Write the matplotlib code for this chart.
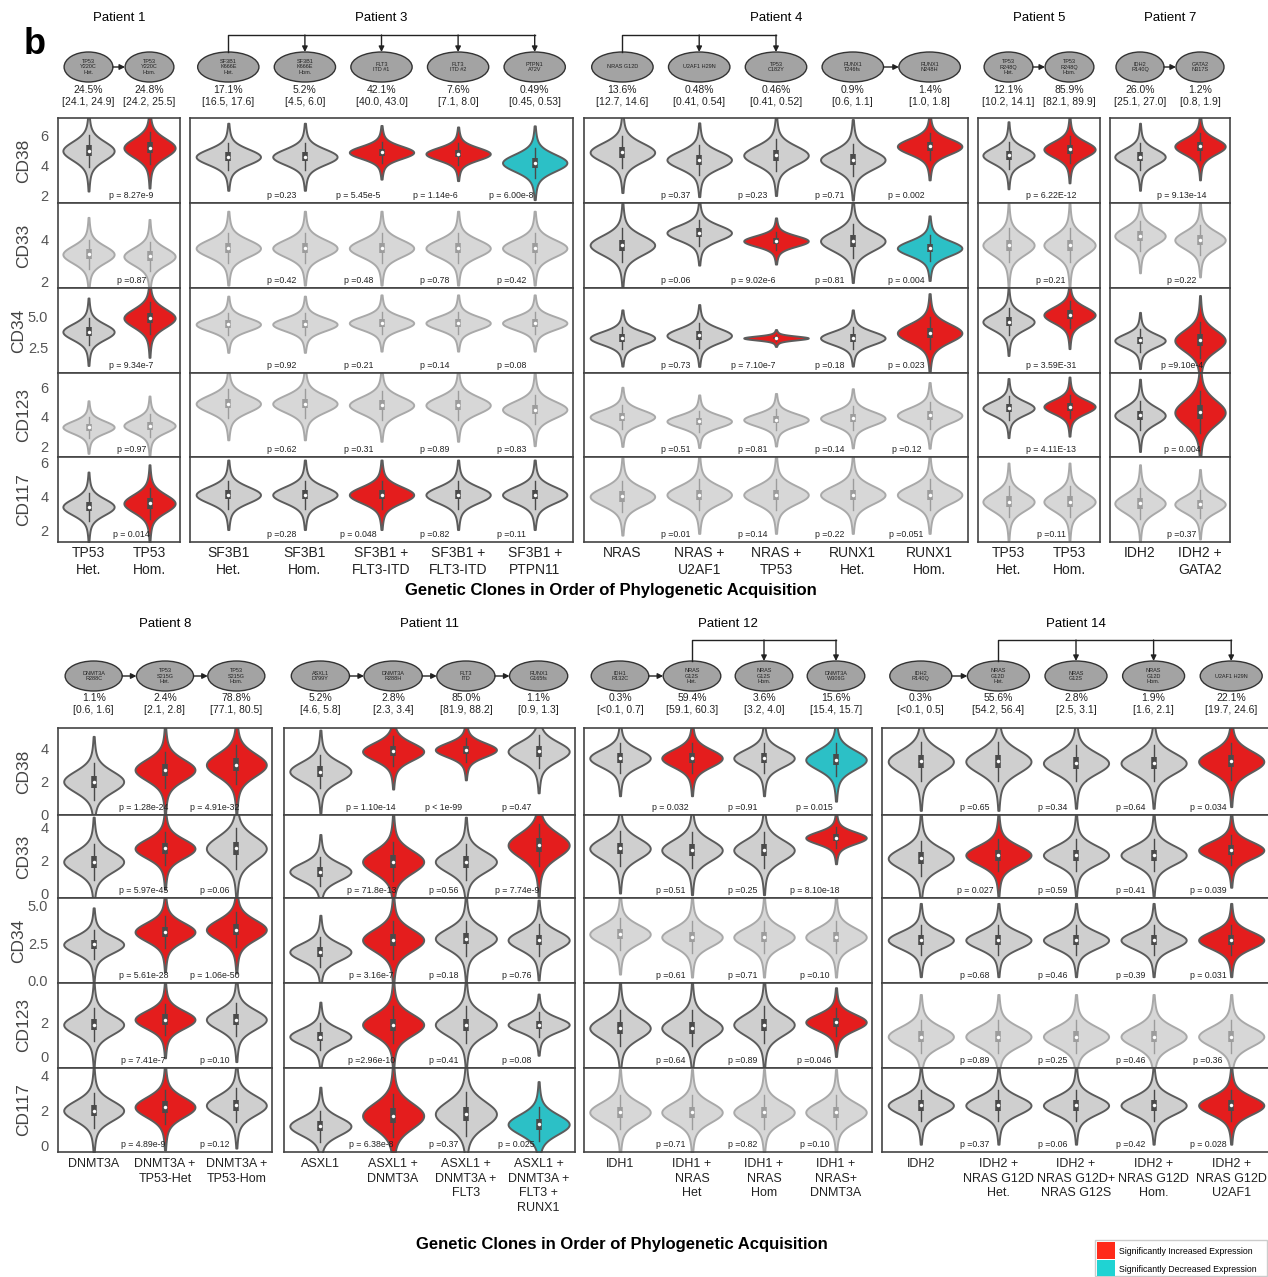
import numpy as np
import matplotlib
matplotlib.use('Agg')
from matplotlib import pyplot as plt
from matplotlib.patches import Ellipse, Rectangle

plt.rcParams['font.family'] = ['Liberation Sans', 'DejaVu Sans']

W, H = 1268, 1277
MARKERS = ['CD38', 'CD33', 'CD34', 'CD123', 'CD117']

# row geometry (pixel rows) and y scales for the two halves of the figure
TOP_ROWS = [(118, 203), (203, 288), (288, 373), (373, 457), (457, 542)]
TOP_YLIM = [(1.5, 7.2), (1.66, 5.8), (0.5, 7.3), (1.25, 7.0), (1.35, 6.3)]
TOP_TICKS = [[2, 4, 6], [2, 4], [2.5, 5.0], [2, 4, 6], [2, 4, 6]]
BOT_ROWS = [(728, 815), (815, 898), (898, 983), (983, 1068), (1068, 1152)]
BOT_YLIM = [(0, 5.2), (-0.3, 4.73), (-0.2, 5.54), (-0.65, 4.35), (-0.4, 4.46)]
BOT_TICKS = [[0, 2, 4], [0, 2, 4], [0.0, 2.5, 5.0], [0, 2], [0, 2, 4]]

# ---------------- patient 1 ----------------
P1_CLONES = ['TP53\nHet.', 'TP53\nHom.']
P1_NODES = ['TP53\nY220C\nHet.', 'TP53\nY220C\nHom.']
P1_VAF = ['24.5%\n[24.1, 24.9]', '24.8%\n[24.2, 25.5]']
P1_MED = [[5.0, 5.2], [3.3, 3.2], [3.8, 4.9], [3.3, 3.4], [3.4, 3.6]]
P1_SD = [[0.6, 0.6], [0.4, 0.4], [0.6, 0.7], [0.4, 0.45], [0.45, 0.5]]
P1_COL = ['dr', 'll', 'dr', 'll', 'dr']
P1_P = [['p = 8.27e-9'], ['p =0.87'], ['p = 9.34e-7'], ['p =0.97'], ['p = 0.014']]

# ---------------- patient 3 ----------------
P3_CLONES = ['SF3B1\nHet.', 'SF3B1\nHom.', 'SF3B1 +\nFLT3-ITD', 'SF3B1 +\nFLT3-ITD', 'SF3B1 +\nPTPN11']
P3_NODES = ['SF3B1\nK666E\nHet.', 'SF3B1\nK666E\nHom.', 'FLT3\nITD #1', 'FLT3\nITD #2', 'PTPN1\nA72V']
P3_VAF = ['17.1%\n[16.5, 17.6]', '5.2%\n[4.5, 6.0]', '42.1%\n[40.0, 43.0]',
          '7.6%\n[7.1, 8.0]', '0.49%\n[0.45, 0.53]']
P3_MED = [[4.6, 4.6, 4.9, 4.8, 4.2], [3.6, 3.6, 3.6, 3.6, 3.6], [4.4, 4.4, 4.5, 4.5, 4.5],
          [4.9, 4.9, 4.8, 4.8, 4.5], [4.1, 4.1, 4.1, 4.1, 4.1]]
P3_SD = [[0.5, 0.5, 0.4, 0.4, 0.55], [0.4] * 5, [0.5] * 5, [0.55] * 5, [0.45] * 5]
P3_COL = ['ddrrc', 'lllll', 'lllll', 'lllll', 'ddrdd']
P3_P = [['p =0.23', 'p = 5.45e-5', 'p = 1.14e-6', 'p = 6.00e-8'],
        ['p =0.42', 'p =0.48', 'p =0.78', 'p =0.42'],
        ['p =0.92', 'p =0.21', 'p =0.14', 'p =0.08'],
        ['p =0.62', 'p =0.31', 'p =0.89', 'p =0.83'],
        ['p =0.28', 'p = 0.048', 'p =0.82', 'p =0.11']]

# ---------------- patient 4 ----------------
P4_CLONES = ['NRAS', 'NRAS +\nU2AF1', 'NRAS +\nTP53', 'RUNX1\nHet.', 'RUNX1\nHom.']
P4_NODES = ['NRAS G12D', 'U2AF1 H29N', 'TP53\nC182Y', 'RUNX1\nT246fs', 'RUNX1\nN248H']
P4_VAF = ['13.6%\n[12.7, 14.6]', '0.48%\n[0.41, 0.54]', '0.46%\n[0.41, 0.52]',
          '0.9%\n[0.6, 1.1]', '1.4%\n[1.0, 1.8]']
P4_MED = [[4.9, 4.4, 4.7, 4.4, 5.3], [3.75, 4.35, 3.95, 3.95, 3.6], [3.3, 3.5, 3.3, 3.3, 3.7],
          [4.0, 3.7, 3.8, 3.9, 4.1], [4.0, 4.1, 4.1, 4.1, 4.1]]
P4_SD = [[0.6, 0.55, 0.6, 0.6, 0.5], [0.45, 0.35, 0.25, 0.45, 0.35], [0.5, 0.55, 0.15, 0.5, 0.7],
         [0.45, 0.4, 0.4, 0.45, 0.5], [0.5] * 5]
P4_COL = ['ddddr', 'ddrdc', 'ddrdr', 'lllll', 'lllll']
P4_P = [['p =0.37', 'p =0.23', 'p =0.71', 'p = 0.002'],
        ['p =0.06', 'p = 9.02e-6', 'p =0.81', 'p = 0.004'],
        ['p =0.73', 'p = 7.10e-7', 'p =0.18', 'p = 0.023'],
        ['p =0.51', 'p =0.81', 'p =0.14', 'p =0.12'],
        ['p =0.01', 'p =0.14', 'p =0.22', 'p =0.051']]

# ---------------- patient 5 ----------------
P5_CLONES = ['TP53\nHet.', 'TP53\nHom.']
P5_NODES = ['TP53\nR248Q\nHet.', 'TP53\nR248Q\nHom.']
P5_VAF = ['12.1%\n[10.2, 14.1]', '85.9%\n[82.1, 89.9]']
P5_MED = [[4.7, 5.1], [3.75, 3.75], [4.6, 5.15], [4.6, 4.7], [3.7, 3.7]]
P5_SD = [[0.5, 0.5], [0.45, 0.45], [0.6, 0.6], [0.45, 0.45], [0.5, 0.5]]
P5_COL = ['dr', 'll', 'dr', 'dr', 'll']
P5_P = [['p = 6.22E-12'], ['p =0.21'], ['p = 3.59E-31'], ['p = 4.11E-13'], ['p =0.11']]

# ---------------- patient 7 ----------------
P7_CLONES = ['IDH2', 'IDH2 +\nGATA2']
P7_NODES = ['IDH2\nR140Q', 'GATA2\nN317S']
P7_VAF = ['26.0%\n[25.1, 27.0]', '1.2%\n[0.8, 1.9]']
P7_MED = [[4.6, 5.3], [4.2, 4.0], [3.1, 3.1], [4.1, 4.3], [3.6, 3.55]]
P7_SD = [[0.5, 0.5], [0.4, 0.4], [0.5, 0.8], [0.55, 0.8], [0.5, 0.45]]
P7_COL = ['dr', 'll', 'dr', 'dr', 'll']
P7_P = [['p = 9.13e-14'], ['p =0.22'], ['p =9.10e-4'], ['p = 0.004'], ['p =0.37']]

# ---------------- patient 8 ----------------
P8_CLONES = ['DNMT3A', 'DNMT3A +\nTP53-Het', 'DNMT3A +\nTP53-Hom']
P8_NODES = ['DNMT3A\nR288C', 'TP53\nS215G\nHet.', 'TP53\nS215G\nHom.']
P8_VAF = ['1.1%\n[0.6, 1.6]', '2.4%\n[2.1, 2.8]', '78.8%\n[77.1, 80.5]']
P8_MED = [[2.0, 2.7, 3.0], [1.9, 2.7, 2.7], [2.4, 3.25, 3.4], [1.9, 2.2, 2.2], [2.0, 2.2, 2.3]]
P8_SD = [[0.6, 0.6, 0.65], [0.6, 0.55, 0.7], [0.55, 0.6, 0.65], [0.55, 0.5, 0.55], [0.55, 0.55, 0.55]]
P8_COL = ['drr', 'drd', 'drr', 'drd', 'drd']
P8_P = [['p = 1.28e-24', 'p = 4.91e-32'], ['p = 5.97e-45', 'p =0.06'],
        ['p = 5.61e-28', 'p = 1.06e-50'], ['p = 7.41e-7', 'p =0.10'],
        ['p = 4.89e-9', 'p =0.12']]

# ---------------- patient 11 ----------------
P11_CLONES = ['ASXL1', 'ASXL1 +\nDNMT3A', 'ASXL1 +\nDNMT3A +\nFLT3', 'ASXL1 +\nDNMT3A +\nFLT3 +\nRUNX1']
P11_NODES = ['ASXL1\nD799Y', 'DNMT3A\nR288H', 'FLT3\nITD', 'RUNX1\nG165fs']
P11_VAF = ['5.2%\n[4.6, 5.8]', '2.8%\n[2.3, 3.4]', '85.0%\n[81.9, 88.2]', '1.1%\n[0.9, 1.3]']
P11_MED = [[2.6, 3.8, 3.9, 3.8], [1.3, 1.9, 1.9, 2.9], [1.9, 2.7, 2.8, 2.7],
           [1.2, 1.9, 1.9, 1.9], [1.1, 1.7, 1.8, 1.2]]
P11_SD = [[0.55, 0.5, 0.4, 0.55], [0.5, 0.65, 0.6, 0.7], [0.55, 0.7, 0.65, 0.6],
          [0.45, 0.6, 0.6, 0.4], [0.5, 0.7, 0.7, 0.55]]
P11_COL = ['drrd', 'drdr', 'drdd', 'drdd', 'drdc']
P11_P = [['p = 1.10e-14', 'p < 1e-99', 'p =0.47'], ['p = 71.8e-13', 'p =0.56', 'p = 7.74e-9'],
         ['p = 3.16e-7', 'p =0.18', 'p =0.76'], ['p =2.96e-10', 'p =0.41', 'p =0.08'],
         ['p = 6.38e-8', 'p =0.37', 'p = 0.025']]

# ---------------- patient 12 ----------------
P12_CLONES = ['IDH1', 'IDH1 +\nNRAS\nHet', 'IDH1 +\nNRAS\nHom', 'IDH1 +\nNRAS+\nDNMT3A']
P12_NODES = ['IDH1\nR132C', 'NRAS\nG12S\nHet.', 'NRAS\nG12S\nHom.', 'DNMT3A\nW306G']
P12_VAF = ['0.3%\n[<0.1, 0.7]', '59.4%\n[59.1, 60.3]', '3.6%\n[3.2, 4.0]', '15.6%\n[15.4, 15.7]']
P12_MED = [[3.4, 3.4, 3.4, 3.3], [2.7, 2.6, 2.6, 3.35], [3.1, 2.9, 2.9, 2.9],
           [1.7, 1.7, 1.9, 2.05], [1.9, 1.9, 1.9, 1.9]]
P12_SD = [[0.5, 0.5, 0.5, 0.55], [0.6, 0.6, 0.6, 0.35], [0.6] * 4, [0.6, 0.6, 0.6, 0.45], [0.55] * 4]
P12_COL = ['drdc', 'dddr', 'llll', 'dddr', 'llll']
P12_P = [['p = 0.032', 'p =0.91', 'p = 0.015'], ['p =0.51', 'p =0.25', 'p = 8.10e-18'],
         ['p =0.61', 'p =0.71', 'p =0.10'], ['p =0.64', 'p =0.89', 'p =0.046'],
         ['p =0.71', 'p =0.82', 'p =0.10']]

# ---------------- patient 14 ----------------
P14_CLONES = ['IDH2', 'IDH2 +\nNRAS G12D\nHet.', 'IDH2 +\nNRAS G12D+\nNRAS G12S',
              'IDH2 +\nNRAS G12D\nHom.', 'IDH2 +\nNRAS G12D\nU2AF1']
P14_NODES = ['IDH2\nR140Q', 'NRAS\nG12D\nHet.', 'NRAS\nG12S', 'NRAS\nG12D\nHom.', 'U2AF1 H29N']
P14_VAF = ['0.3%\n[<0.1, 0.5]', '55.6%\n[54.2, 56.4]', '2.8%\n[2.5, 3.1]',
           '1.9%\n[1.6, 2.1]', '22.1%\n[19.7, 24.6]']
P14_MED = [[3.2, 3.2, 3.1, 3.1, 3.2], [2.1, 2.3, 2.3, 2.3, 2.6], [2.7] * 5,
           [1.2] * 5, [2.3] * 5]
P14_SD = [[0.65, 0.65, 0.6, 0.6, 0.6], [0.6, 0.55, 0.55, 0.55, 0.5], [0.55] * 5,
          [0.55] * 5, [0.5] * 5]
P14_COL = ['ddddr', 'drddr', 'ddddr', 'lllll', 'ddddr']
P14_P = [['p =0.65', 'p =0.34', 'p =0.64', 'p = 0.034'],
         ['p = 0.027', 'p =0.59', 'p =0.41', 'p = 0.039'],
         ['p =0.68', 'p =0.46', 'p =0.39', 'p = 0.031'],
         ['p =0.89', 'p =0.25', 'p =0.46', 'p =0.36'],
         ['p =0.37', 'p =0.06', 'p =0.42', 'p = 0.028']]

STYLES = {
    'd': ('#cfcfcf', '#5c5c5c', '#4a4a4a'),
    'l': ('#d7d7d7', '#a9a9a9', '#9c9c9c'),
    'r': ('#e41d1d', '#5c5c5c', '#4a4a4a'),
    'c': ('#2cc0c6', '#5c5c5c', '#4a4a4a'),
}


def patient(name, x0, x1, top, clones, nodes, vaf, med, sd, col, pv, chain=(), bracket=None):
    return dict(name=name, x0=x0, x1=x1, top=top, clones=clones, nodes=nodes, vaf=vaf,
                med=med, sd=sd, col=col, p=pv, chain=chain, bracket=bracket)


PATIENTS = [
    patient('Patient 1', 58, 180, True, P1_CLONES, P1_NODES, P1_VAF, P1_MED, P1_SD, P1_COL, P1_P,
            chain=[(0, 1)]),
    patient('Patient 3', 190, 573, True, P3_CLONES, P3_NODES, P3_VAF, P3_MED, P3_SD, P3_COL, P3_P,
            bracket=(0, [1, 2, 3, 4])),
    patient('Patient 4', 584, 968, True, P4_CLONES, P4_NODES, P4_VAF, P4_MED, P4_SD, P4_COL, P4_P,
            chain=[(3, 4)], bracket=(0, [1, 2])),
    patient('Patient 5', 978, 1100, True, P5_CLONES, P5_NODES, P5_VAF, P5_MED, P5_SD, P5_COL, P5_P,
            chain=[(0, 1)]),
    patient('Patient 7', 1110, 1230, True, P7_CLONES, P7_NODES, P7_VAF, P7_MED, P7_SD, P7_COL, P7_P,
            chain=[(0, 1)]),
    patient('Patient 8', 58, 272, False, P8_CLONES, P8_NODES, P8_VAF, P8_MED, P8_SD, P8_COL, P8_P,
            chain=[(0, 1), (1, 2)]),
    patient('Patient 11', 284, 575, False, P11_CLONES, P11_NODES, P11_VAF, P11_MED, P11_SD, P11_COL,
            P11_P, chain=[(0, 1), (1, 2), (2, 3)]),
    patient('Patient 12', 584, 872, False, P12_CLONES, P12_NODES, P12_VAF, P12_MED, P12_SD, P12_COL,
            P12_P, chain=[(0, 1)], bracket=(1, [2, 3])),
    patient('Patient 14', 882, 1270, False, P14_CLONES, P14_NODES, P14_VAF, P14_MED, P14_SD, P14_COL,
            P14_P, chain=[(0, 1)], bracket=(1, [2, 3, 4])),
]


def draw_violin(ax, x, m, s, style):
    fill, edge, box = STYLES[style]
    y = np.linspace(m - 4.5 * s, m + 4.5 * s, 240)
    z = (y - m) / s
    d = 0.85 * np.exp(-0.5 * z ** 2) + 0.15 * np.exp(-0.5 * (z / 2.2) ** 2)
    hw = 0.42 * d / d.max()
    ax.fill_betweenx(y, x - hw, x + hw, facecolor=fill, edgecolor=edge, lw=1.4, zorder=2)
    ax.plot([x, x], [m - 1.8 * s, m + 1.8 * s], color=box, lw=1, zorder=3)
    ax.plot([x, x], [m - 0.6 * s, m + 0.6 * s], color=box, lw=4, solid_capstyle='butt', zorder=3)
    ax.plot(x, m, 'o', ms=2.5, color='white', mec='none', zorder=4)


def draw_header(ov, pt, centers):
    top = pt['top']
    ny = 67 if top else 676
    by = 35 if top else 640
    vy = 96 if top else 704
    ty = 18 if top else 624
    step = centers[1] - centers[0]
    w, h = min(62, step * 0.8), 30
    ov.text((pt['x0'] + pt['x1']) / 2, ty, pt['name'], ha='center', va='center', fontsize=9.5)
    for x, lab, v in zip(centers, pt['nodes'], pt['vaf']):
        ov.add_patch(Ellipse((x, ny), w, h, facecolor='#a3a3a3', edgecolor='#333333', lw=1))
        ov.text(x, ny, lab, ha='center', va='center', fontsize=4, color='#222222', linespacing=1.1)
        ov.text(x, vy, v, ha='center', va='center', fontsize=7.5, color='#222222', linespacing=1.35)
    arrow = dict(arrowstyle='-|>', color='#222222', lw=1, mutation_scale=8, shrinkA=0, shrinkB=0)
    for i, j in pt['chain']:
        ov.annotate('', xy=(centers[j] - w / 2, ny), xytext=(centers[i] + w / 2, ny), arrowprops=arrow)
    if pt['bracket'] is not None:
        root, kids = pt['bracket']
        xr = centers[root]
        xl = centers[kids[-1]]
        ov.plot([xr, xr, xl], [ny - h / 2, by, by], color='#222222', lw=1)
        for k in kids:
            ov.annotate('', xy=(centers[k], ny - h / 2), xytext=(centers[k], by), arrowprops=arrow)


def main():
    fig = plt.figure(figsize=(W / 100, H / 100), dpi=100)
    ov = fig.add_axes([0, 0, 1, 1])
    ov.set_xlim(0, W)
    ov.set_ylim(H, 0)
    ov.axis('off')

    for pt in PATIENTS:
        rows = TOP_ROWS if pt['top'] else BOT_ROWS
        ylims = TOP_YLIM if pt['top'] else BOT_YLIM
        ticks = TOP_TICKS if pt['top'] else BOT_TICKS
        n = len(pt['clones'])
        first = pt['x0'] == 58
        for r, (ya, yb) in enumerate(rows):
            ax = fig.add_axes([pt['x0'] / W, 1 - yb / H, (pt['x1'] - pt['x0']) / W, (yb - ya) / H])
            ax.set_xlim(-0.5, n - 0.5)
            ax.set_ylim(*ylims[r])
            for sp in ax.spines.values():
                sp.set_color('#444444')
                sp.set_linewidth(1.2)
            ax.set_xticks([])
            if first:
                ax.set_yticks(ticks[r])
                if r == 2:
                    ax.set_yticklabels(['%.1f' % t for t in ticks[r]])
                ax.tick_params(axis='y', length=0, pad=7, labelsize=10.5, labelcolor='#555555')
            else:
                ax.set_yticks([])
            for i in range(n):
                draw_violin(ax, i, pt['med'][r][i], pt['sd'][r][i], pt['col'][r][i])
            for k, txt in enumerate(pt['p'][r]):
                ax.text(k + 1 - 0.3, ylims[r][0] + 0.09 * (ylims[r][1] - ylims[r][0]), txt,
                        ha='center', va='center', fontsize=6.3, color='#222222', zorder=5)
            if first:
                lx = 19 if r == 2 else 24
                ov.text(lx, (ya + yb) / 2, MARKERS[r], rotation=90, ha='center', va='center',
                        fontsize=12.5, color='#444444')

        centers = [pt['x0'] + (pt['x1'] - pt['x0']) * (i + 0.5) / n for i in range(n)]
        draw_header(ov, pt, centers)
        ly = 546 if pt['top'] else 1158
        fs = 10 if pt['top'] else 9
        for x, lab in zip(centers, pt['clones']):
            ov.text(x, ly, lab, ha='center', va='top', fontsize=fs, color='#222222', linespacing=1.3)

    ov.text(35, 45, 'b', fontsize=26, fontweight='bold', ha='center', va='center')
    ov.text(611, 590, 'Genetic Clones in Order of Phylogenetic Acquisition', fontsize=12,
            fontweight='bold', ha='center', va='center')
    ov.text(622, 1245, 'Genetic Clones in Order of Phylogenetic Acquisition', fontsize=12,
            fontweight='bold', ha='center', va='center')

    # legend box
    ov.add_patch(Rectangle((1095, 1240), 172, 36, facecolor='white', edgecolor='#cccccc', lw=1))
    ov.add_patch(Rectangle((1097, 1242), 18, 17, facecolor='#ff2a1a', edgecolor='none'))
    ov.add_patch(Rectangle((1097, 1260), 18, 16, facecolor='#1fd3d3', edgecolor='none'))
    ov.text(1119, 1251, 'Significantly Increased Expression', fontsize=6.3, va='center')
    ov.text(1119, 1269, 'Significantly Decreased Expression', fontsize=6.3, va='center')

    fig.savefig('out.png', dpi=100, facecolor='white')


if __name__ == '__main__':
    main()
